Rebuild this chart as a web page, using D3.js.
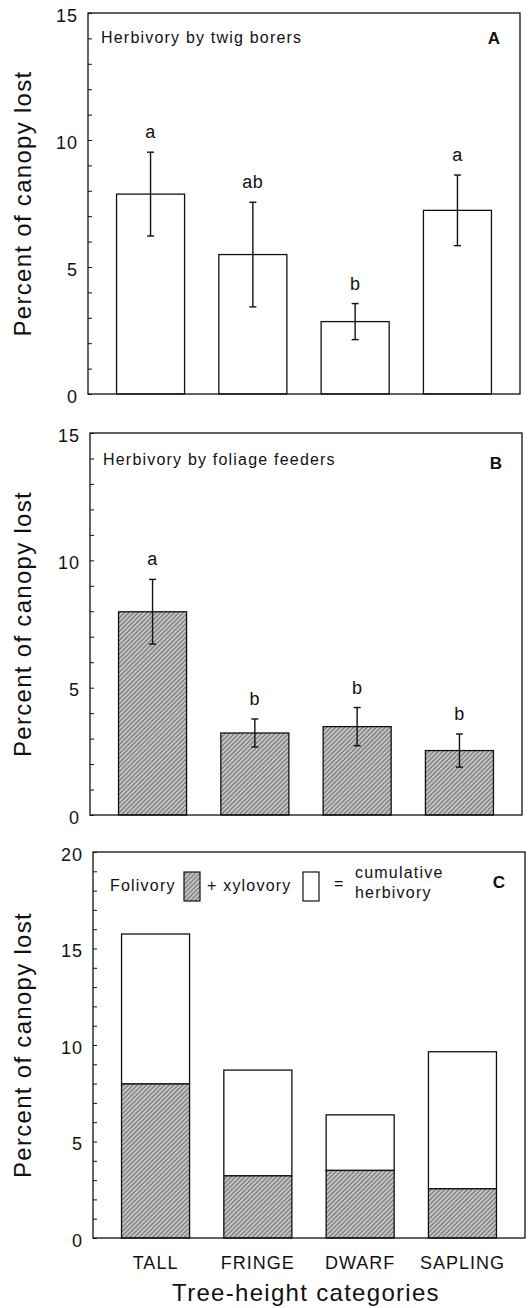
<!DOCTYPE html>
<html>
<head>
<meta charset="utf-8">
<script src="https://cdn.jsdelivr.net/npm/d3@7"></script>
<style>
  body { margin: 0; background: #fff; }
  svg { display: block; font-family: "Liberation Sans", Arial, Helvetica, sans-serif; }
</style>
</head>
<body>
<svg id="fig" width="532" height="1308"></svg>
<script>
// data
const categories = ["TALL", "FRINGE", "DWARF", "SAPLING"];

const twigMean = [7.87, 5.49, 2.85, 7.23];
const twigErr = [1.65, 2.06, 0.71, 1.39];
const twigLetters = ["a", "ab", "b", "a"];

const foliageMean = [7.98, 3.22, 3.47, 2.53];
const foliageErr = [1.27, 0.55, 0.75, 0.65];
const foliageLetters = ["a", "b", "b", "b"];

const cumFolivory = [7.98, 3.22, 3.50, 2.55];
const cumTotal = [15.75, 8.70, 6.38, 9.65];

const yTicksAB = [0, 5, 10, 15];
const yTicksC = [0, 5, 10, 15, 20];

const plotWidth = 432;
const ink = "#111";

const svg = d3.select("#fig");

// diagonal hatch used for foliage feeders
svg.append("defs").append("pattern")
   .attr("id", "hatch")
   .attr("width", 3.2)
   .attr("height", 3.2)
   .attr("patternUnits", "userSpaceOnUse")
   .attr("patternTransform", "rotate(45)")
   .call(p => {
     p.append("rect").attr("width", 3.2).attr("height", 3.2).attr("fill", "#c6c6c6");
     p.append("line").attr("x1", 1).attr("y1", 0).attr("x2", 1).attr("y2", 3.2)
      .attr("stroke", "#6e6e6e").attr("stroke-width", 1.1);
   });

const panels = [
  {left: 88, top: 13, bottom: 394, yMax: 15, ticks: yTicksAB,
   title: "Herbivory by twig borers", titleY: 30, tag: "A", tagY: 31},
  {left: 90, top: 433, bottom: 815, yMax: 15, ticks: yTicksAB,
   title: "Herbivory by foliage feeders", titleY: 32, tag: "B", tagY: 36},
  {left: 93, top: 852, bottom: 1238, yMax: 20, ticks: yTicksC,
   title: null, tag: "C", tagY: 36}
];

function setupPanel(p) {
  const h = p.bottom - p.top;
  const g = svg.append("g").attr("transform", "translate(" + p.left + "," + p.top + ")");

  const x = d3.scaleBand()
              .domain(categories)
              .range([0, plotWidth])
              .paddingInner(0.335)
              .paddingOuter(0.279);

  const y = d3.scaleLinear()
              .domain([0, p.yMax])
              .range([h, 0]);

  // y-axis with inward minor ticks every unit
  const yAxis = d3.axisLeft(y)
                  .tickValues(d3.range(0, p.yMax + 1))
                  .tickSize(-4)
                  .tickPadding(10)
                  .tickFormat(d => p.ticks.includes(d) ? d : "");

  const ax = g.append("g").call(yAxis);
  ax.select(".domain").remove();
  ax.selectAll(".tick line").attr("stroke", ink).attr("stroke-width", 1);
  ax.selectAll(".tick text")
    .attr("fill", ink)
    .attr("dy", "0.45em")
    .style("font-size", "18px")
    .style("letter-spacing", "1px");

  // y label
  svg.append("text")
     .attr("transform", "translate(31," + ((p.top + p.bottom) / 2) + ") rotate(-90)")
     .attr("text-anchor", "middle")
     .attr("fill", ink)
     .style("font-size", "24px")
     .style("letter-spacing", "1.3px")
     .text("Percent of canopy lost");

  if (p.title) {
    g.append("text")
     .attr("x", 13)
     .attr("y", p.titleY)
     .attr("fill", ink)
     .style("font-size", "16px")
     .style("letter-spacing", "1.2px")
     .text(p.title);
  }

  g.append("text")
   .attr("x", plotWidth - 20)
   .attr("y", p.tagY)
   .attr("text-anchor", "end")
   .attr("fill", ink)
   .style("font-size", "17px")
   .style("font-weight", "bold")
   .text(p.tag);

  return {g: g, x: x, y: y, h: h};
}

function drawFrame(c) {
  c.g.append("rect")
     .attr("x", 0)
     .attr("y", 0)
     .attr("width", plotWidth)
     .attr("height", c.h)
     .attr("fill", "none")
     .attr("stroke", ink)
     .attr("stroke-width", 1.3);
}

function drawMeanBars(c, means, errs, letters, fill) {
  const rows = categories.map((k, i) => ({k: k, m: means[i], e: errs[i], l: letters[i]}));

  c.g.selectAll(".bar")
     .data(rows)
     .enter().append("rect")
     .attr("class", "bar")
     .attr("x", d => c.x(d.k))
     .attr("y", d => c.y(d.m))
     .attr("width", c.x.bandwidth())
     .attr("height", d => c.y(0) - c.y(d.m))
     .attr("fill", fill)
     .attr("stroke", ink)
     .attr("stroke-width", 1.3);

  const cx = d => c.x(d.k) + c.x.bandwidth() / 2;
  const err = c.g.selectAll(".err").data(rows).enter().append("g").attr("class", "err")
                 .attr("stroke", ink).attr("stroke-width", 1.4);
  err.append("line")
     .attr("x1", cx).attr("x2", cx)
     .attr("y1", d => c.y(d.m - d.e)).attr("y2", d => c.y(d.m + d.e));
  err.append("line")
     .attr("x1", d => cx(d) - 3.5).attr("x2", d => cx(d) + 3.5)
     .attr("y1", d => c.y(d.m + d.e)).attr("y2", d => c.y(d.m + d.e));
  err.append("line")
     .attr("x1", d => cx(d) - 3.5).attr("x2", d => cx(d) + 3.5)
     .attr("y1", d => c.y(d.m - d.e)).attr("y2", d => c.y(d.m - d.e));

  c.g.selectAll(".letter")
     .data(rows)
     .enter().append("text")
     .attr("class", "letter")
     .attr("x", cx)
     .attr("y", d => c.y(d.m + d.e) - 14)
     .attr("text-anchor", "middle")
     .attr("fill", ink)
     .style("font-size", "18px")
     .style("letter-spacing", "0.5px")
     .text(d => d.l);

  drawFrame(c);
}

// Panel A
const pA = setupPanel(panels[0]);
drawMeanBars(pA, twigMean, twigErr, twigLetters, "#fff");

// Panel B
const pB = setupPanel(panels[1]);
drawMeanBars(pB, foliageMean, foliageErr, foliageLetters, "url(#hatch)");

// Panel C: folivory stacked under xylovory
const pC = setupPanel(panels[2]);
const stackRows = categories.map((k, i) => ({k: k, f: cumFolivory[i], t: cumTotal[i]}));

pC.g.selectAll(".total")
    .data(stackRows)
    .enter().append("rect")
    .attr("class", "total")
    .attr("x", d => pC.x(d.k))
    .attr("y", d => pC.y(d.t))
    .attr("width", pC.x.bandwidth())
    .attr("height", d => pC.y(d.f) - pC.y(d.t))
    .attr("fill", "#fff")
    .attr("stroke", ink)
    .attr("stroke-width", 1.3);

pC.g.selectAll(".foli")
    .data(stackRows)
    .enter().append("rect")
    .attr("class", "foli")
    .attr("x", d => pC.x(d.k))
    .attr("y", d => pC.y(d.f))
    .attr("width", pC.x.bandwidth())
    .attr("height", d => pC.y(0) - pC.y(d.f))
    .attr("fill", "url(#hatch)")
    .attr("stroke", ink)
    .attr("stroke-width", 1.3);

drawFrame(pC);

// Legend
let legend = pC.g.append("g").attr("fill", ink).style("font-size", "16px").style("letter-spacing", "1.2px");
legend.append("text").attr("x", 17).attr("y", 39).text("Folivory");
legend.append("rect").attr("x", 91).attr("y", 20).attr("width", 16).attr("height", 29)
      .attr("fill", "url(#hatch)").attr("stroke", ink).attr("stroke-width", 1.2);
legend.append("text").attr("x", 114).attr("y", 39).text("+ xylovory");
legend.append("rect").attr("x", 210).attr("y", 20).attr("width", 16).attr("height", 29)
      .attr("fill", "#fff").attr("stroke", ink).attr("stroke-width", 1.2);
legend.append("text").attr("x", 241).attr("y", 37).text("=");
legend.append("text").attr("x", 262).attr("y", 26).text("cumulative");
legend.append("text").attr("x", 262).attr("y", 46).text("herbivory");

// x-axis categories
const xAxis = d3.axisBottom(pC.x).tickSize(0).tickPadding(18);
const xg = pC.g.append("g").attr("transform", "translate(0," + pC.h + ")").call(xAxis);
xg.select(".domain").remove();
xg.selectAll("text")
  .attr("fill", ink)
  .style("font-size", "18px")
  .style("letter-spacing", "1px");

// x-axis title
svg.append("text")
   .attr("x", panels[2].left + plotWidth / 2 - 3)
   .attr("y", 1301)
   .attr("text-anchor", "middle")
   .attr("fill", ink)
   .style("font-size", "24px")
   .style("letter-spacing", "1.3px")
   .text("Tree-height categories");
</script>
</body>
</html>
